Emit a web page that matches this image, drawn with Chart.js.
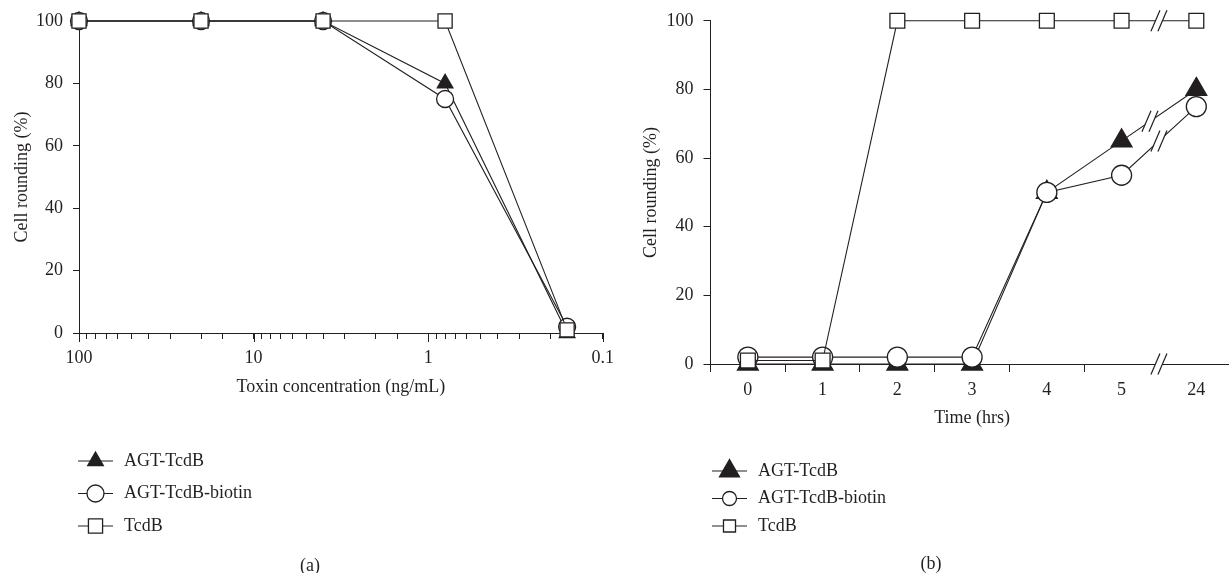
<!DOCTYPE html>
<html>
<head>
<meta charset="utf-8">
<script src="https://cdn.jsdelivr.net/npm/chart.js@4.4.1/dist/chart.umd.min.js"></script>
<style>
  html, body { margin: 0; padding: 0; background: #fff; overflow: hidden; }
  body { width: 1229px; height: 573px; position: relative; }
  canvas { position: absolute; top: 0; }
  #chartA { left: 0; }
  #chartB { left: 620px; }
  .cap { position: absolute; font: 18px "Liberation Serif", "Times New Roman", serif; color: #231f20; transform: translate(-50%, -50%); }
</style>
</head>
<body>
<canvas id="chartA" width="622" height="573"></canvas>
<canvas id="chartB" width="627" height="573"></canvas>
<div class="cap" style="left:310px; top:565px">(a)</div>
<div class="cap" style="left:931px; top:563px">(b)</div>
<script>
// panel (a): dose response
let concentrations = [100, 20, 4, 0.8, 0.16];
let agtA = [100, 100, 100, 80, 0];
let biotinA = [100, 100, 100, 75, 2];
let tcdbA = [100, 100, 100, 100, 1];
let decadeLabels = [100, 10, 1, 0.1];

// panel (b): time course
let timeLabels = ['0', '1', '2', '3', '4', '5', '24'];
let agtB = [0, 0, 0, 0, 50, 65, 80];
let biotinB = [2, 2, 2, 2, 50, 55, 75];
let tcdbB = [1, 1, 100, 100, 100, 100, 100];
let axisBreakAt = 5.5;            // between "5" and "24"
let seriesBreakAt = [5.38, 5.5, 5.5];

let serif = '"Liberation Serif", "Times New Roman", serif';
let ink = '#231f20';

Chart.defaults.font.family = serif;
Chart.defaults.font.size = 18;
Chart.defaults.color = ink;

function series(label, data, style, radius, order) {
    return {
        label: label,
        data: data,
        borderColor: ink,
        borderWidth: 1.1,
        pointStyle: style,
        pointRadius: radius,
        pointHoverRadius: radius,
        pointBackgroundColor: style === 'triangle' ? ink : '#fff',
        pointBorderColor: ink,
        pointBorderWidth: 1.3,
        tension: 0,
        clip: false,
        order: order
    };
}

// legend: line through marker, label on the right
const lineLegend = {
    id: 'lineLegend',
    afterDraw(chart, args, opts) {
        let ctx = chart.ctx;
        ctx.save();
        chart.data.datasets.forEach((ds, i) => {
            let y = opts.top + i * opts.rowGap;
            let mx = (opts.lineX0 + opts.lineX1) / 2;
            ctx.strokeStyle = ink;
            ctx.lineWidth = 1;
            ctx.beginPath();
            ctx.moveTo(opts.lineX0, y);
            ctx.lineTo(opts.lineX1, y);
            ctx.stroke();
            ctx.fillStyle = ds.pointBackgroundColor;
            ctx.strokeStyle = ds.pointBorderColor;
            ctx.lineWidth = ds.pointBorderWidth;
            Chart.helpers.drawPoint(ctx, {
                pointStyle: ds.pointStyle,
                radius: opts.radius[i],
                rotation: 0,
                borderWidth: ds.pointBorderWidth
            }, mx, y);
            ctx.fillStyle = ink;
            ctx.font = '18px ' + serif;
            ctx.textAlign = 'left';
            ctx.textBaseline = 'middle';
            ctx.fillText(ds.label, opts.textX, y);
        });
        ctx.restore();
    }
};

// "//" break marks on the x axis and on the lines of panel (b)
const breakMarks = {
    id: 'breakMarks',
    afterDatasetsDraw(chart, args, opts) {
        let ctx = chart.ctx;
        let x = chart.scales.x, y = chart.scales.y;
        let marks = [{ cx: x.getPixelForValue(opts.axisAt), cy: y.bottom }];
        chart.data.datasets.forEach((ds, i) => {
            let v = opts.seriesAt[i];
            let i0 = Math.floor(v), t = v - i0;
            let x0 = x.getPixelForValue(i0), x1 = x.getPixelForValue(i0 + 1);
            let y0 = y.getPixelForValue(ds.data[i0]), y1 = y.getPixelForValue(ds.data[i0 + 1]);
            marks.push({ cx: x0 + t * (x1 - x0), cy: y0 + t * (y1 - y0) });
        });
        let hx = 4.5, hy = 10.5, g = 7;
        ctx.save();
        marks.forEach(m => {
            ctx.fillStyle = '#fff';
            ctx.beginPath();
            ctx.moveTo(m.cx - g / 2 - hx * 0.6, m.cy + hy * 0.6);
            ctx.lineTo(m.cx - g / 2 + hx * 0.6, m.cy - hy * 0.6);
            ctx.lineTo(m.cx + g / 2 + hx * 0.6, m.cy - hy * 0.6);
            ctx.lineTo(m.cx + g / 2 - hx * 0.6, m.cy + hy * 0.6);
            ctx.closePath();
            ctx.fill();
            ctx.strokeStyle = ink;
            ctx.lineWidth = 1.2;
            [-g / 2, g / 2].forEach(d => {
                ctx.beginPath();
                ctx.moveTo(m.cx + d - hx, m.cy + hy);
                ctx.lineTo(m.cx + d + hx, m.cy - hy);
                ctx.stroke();
            });
        });
        ctx.restore();
    }
};

// longer tick marks at the decades of the log axis
const decadeTicks = {
    id: 'decadeTicks',
    afterDraw(chart) {
        let ctx = chart.ctx, x = chart.scales.x;
        ctx.save();
        ctx.strokeStyle = ink;
        ctx.lineWidth = 1;
        decadeLabels.forEach(v => {
            let px = Math.round(x.getPixelForValue(v)) + 0.5;
            ctx.beginPath();
            ctx.moveTo(px, x.top);
            ctx.lineTo(px, x.top + 9);
            ctx.stroke();
        });
        ctx.restore();
    }
};

function isDecade(v) {
    let l = Math.log10(v);
    return Math.abs(l - Math.round(l)) < 1e-9;
}

let pointsOf = (xs, ys) => xs.map((c, i) => ({ x: c, y: ys[i] }));

new Chart(document.getElementById('chartA'), {
    type: 'line',
    data: {
        datasets: [
            series('AGT-TcdB', pointsOf(concentrations, agtA), 'triangle', 9, 3),
            series('AGT-TcdB-biotin', pointsOf(concentrations, biotinA), 'circle', 8.5, 2),
            series('TcdB', pointsOf(concentrations, tcdbA), 'rect', 10, 1)
        ]
    },
    options: {
        responsive: false,
        devicePixelRatio: 1,
        animation: false,
        events: [],
        layout: { padding: { top: 21, right: 17, bottom: 175, left: 0 } },
        plugins: {
            legend: { display: false },
            tooltip: { enabled: false },
            lineLegend: { top: 461, rowGap: 32.5, lineX0: 78, lineX1: 113, textX: 124, radius: [9, 8.5, 10] }
        },
        scales: {
            x: {
                type: 'logarithmic',
                reverse: true,
                min: 0.1,
                max: 100,
                afterFit: s => { s.height = 65; },
                border: { display: true, color: ink, width: 1 },
                grid: { drawOnChartArea: false, tickLength: 6, tickColor: ink, tickWidth: 1 },
                ticks: {
                    autoSkip: false,
                    maxRotation: 0,
                    padding: 8,
                    callback: v => isDecade(v) ? String(Number(v.toPrecision(3))) : ''
                },
                title: { display: true, text: 'Toxin concentration (ng/mL)', font: { size: 18, lineHeight: 1.2 }, padding: { top: 0, bottom: 0 } }
            },
            y: {
                min: 0,
                max: 100,
                afterFit: s => { s.width = 79; },
                border: { display: true, color: ink, width: 1 },
                grid: { drawOnChartArea: false, tickLength: 6, tickColor: ink },
                ticks: { stepSize: 20, padding: 10 },
                title: { display: true, text: 'Cell rounding (%)', font: { size: 18, lineHeight: 1.2 }, padding: { top: 11, bottom: 0 } }
            }
        }
    },
    plugins: [lineLegend, decadeTicks]
});

new Chart(document.getElementById('chartB'), {
    type: 'line',
    data: {
        labels: timeLabels,
        datasets: [
            series('AGT-TcdB', agtB, 'triangle', 12, 3),
            series('AGT-TcdB-biotin', biotinB, 'circle', 10, 2),
            series('TcdB', tcdbB, 'rect', 10.5, 1)
        ]
    },
    options: {
        responsive: false,
        devicePixelRatio: 1,
        animation: false,
        events: [],
        layout: { padding: { top: 19, right: 2.3, bottom: 144, left: 0 } },
        plugins: {
            legend: { display: false },
            tooltip: { enabled: false },
            lineLegend: { top: 471, rowGap: 27.5, lineX0: 92, lineX1: 127, textX: 138, radius: [11.5, 7, 8.5] },
            breakMarks: { axisAt: axisBreakAt, seriesAt: seriesBreakAt }
        },
        scales: {
            x: {
                type: 'category',
                offset: true,
                afterFit: s => { s.height = 65; },
                border: { display: true, color: ink, width: 1 },
                grid: {
                    offset: true,
                    drawOnChartArea: false,
                    tickLength: 8,
                    tickColor: c => (c.index === 6 ? 'rgba(0,0,0,0)' : ink)
                },
                ticks: { autoSkip: false, maxRotation: 0, padding: 7 },
                title: { display: true, text: 'Time (hrs)', font: { size: 18, lineHeight: 1.2 }, padding: { top: 0, bottom: 0 } }
            },
            y: {
                min: 0,
                max: 100,
                afterFit: s => { s.width = 90.5; },
                border: { display: true, color: ink, width: 1 },
                grid: { drawOnChartArea: false, tickLength: 7, tickColor: ink },
                ticks: { stepSize: 20, padding: 10 },
                title: { display: true, text: 'Cell rounding (%)', font: { size: 18, lineHeight: 1.2 }, padding: { top: 20, bottom: 0 } }
            }
        }
    },
    plugins: [lineLegend, breakMarks]
});
</script>
</body>
</html>
